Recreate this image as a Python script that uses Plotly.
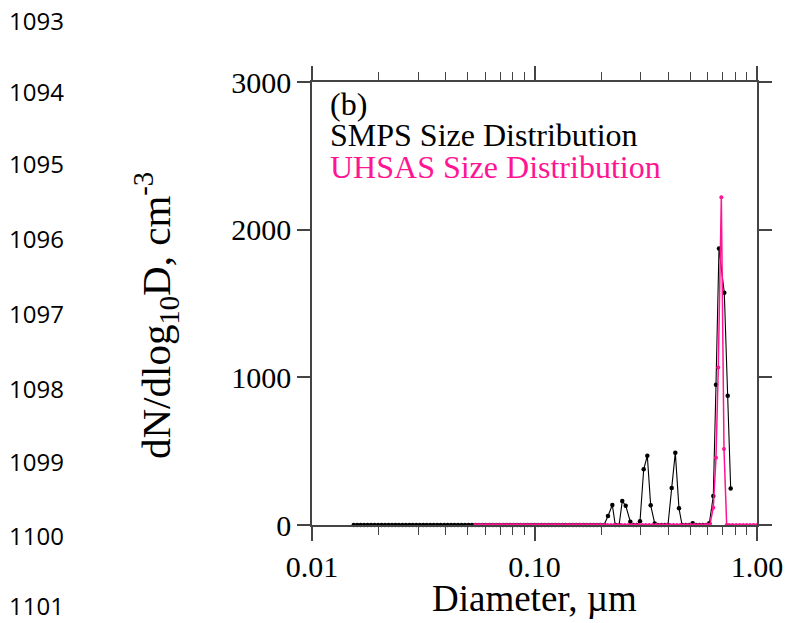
import plotly.graph_objects as go

# ---------------- data ----------------
smps_diam = [
    0.01540, 0.01596, 0.01655, 0.01715, 0.01778, 0.01843, 0.01911, 0.01981, 0.02054, 0.02129,
    0.02207, 0.02288, 0.02371, 0.02458, 0.02548, 0.02642, 0.02738, 0.02839, 0.02943, 0.03051,
    0.03162, 0.03278, 0.03398, 0.03523, 0.03652, 0.03786, 0.03924, 0.04068, 0.04217, 0.04371,
    0.04532, 0.04698, 0.04870, 0.05048, 0.05233, 0.05425, 0.05623, 0.05829, 0.06043, 0.06264,
    0.06494, 0.06732, 0.06978, 0.07234, 0.07499, 0.07774, 0.08058, 0.08354, 0.08660, 0.08977,
    0.09306, 0.09647, 0.1000, 0.1037, 0.1075, 0.1114, 0.1155, 0.1197, 0.1241, 0.1286,
    0.1334, 0.1382, 0.1433, 0.1486, 0.1540, 0.1596, 0.1655, 0.1715, 0.1778, 0.1843,
    0.1911, 0.1981, 0.2054,
    0.2139, 0.2238, 0.2307, 0.2400, 0.2480, 0.2570, 0.2696, 0.2780, 0.2880, 0.2980,
    0.3096, 0.3214, 0.3328, 0.3469, 0.3590, 0.3720, 0.3850, 0.3980, 0.4136, 0.4294,
    0.4460, 0.4605, 0.4780, 0.4950, 0.5140, 0.5320, 0.5510, 0.5700, 0.5900, 0.6105,
    0.6363, 0.6542, 0.6748, 0.7129, 0.7385, 0.7616,
]
smps_conc = [
    0, 0, 0, 0, 0, 0, 0, 0, 0, 0,
    0, 0, 0, 0, 0, 0, 0, 0, 0, 0,
    0, 0, 0, 0, 0, 0, 0, 0, 0, 0,
    0, 0, 0, 0, 0, 0, 0, 0, 0, 0,
    0, 0, 0, 0, 0, 0, 0, 0, 0, 0,
    0, 0, 0, 0, 0, 0, 0, 0, 0, 0,
    0, 0, 0, 0, 0, 0, 0, 0, 0, 0,
    0, 0, 0,
    61, 135, 0, 0, 162, 131, 22, 0, 0, 25,
    377, 469, 133, 11, 0, 0, 0, 0, 250, 490,
    113, 0, 0, 0, 12, 0, 0, 0, 0, 12,
    196, 950, 1873, 1573, 875, 248,
]

uhsas_diam = [
    0.05425, 0.05623, 0.05829, 0.06043, 0.06264, 0.06494, 0.06732, 0.06978, 0.07234, 0.07499,
    0.07774, 0.08058, 0.08354, 0.08660, 0.08977, 0.09306, 0.09647,
    0.1000, 0.1037, 0.1075, 0.1114, 0.1155, 0.1197, 0.1241, 0.1286, 0.1334, 0.1382,
    0.1433, 0.1486, 0.1540, 0.1596, 0.1655, 0.1715, 0.1778, 0.1843, 0.1911, 0.1981,
    0.2054, 0.2129, 0.2207, 0.2288, 0.2371, 0.2458, 0.2548, 0.2642, 0.2738, 0.2839,
    0.2943, 0.3051, 0.3162, 0.3278, 0.3398, 0.3523, 0.3652, 0.3786, 0.3924, 0.4068,
    0.4217, 0.4371, 0.4532, 0.4698, 0.4870, 0.5048, 0.5233, 0.5425, 0.5623, 0.5829,
    0.6000, 0.6135, 0.6363, 0.6542, 0.6700, 0.6913, 0.7106, 0.7307,
    0.7499, 0.7774, 0.8058, 0.8354, 0.8660, 0.8977, 0.9306, 0.9647, 1.000,
]
uhsas_conc = [
    0, 0, 0, 0, 0, 0, 0, 0, 0, 0,
    0, 0, 0, 0, 0, 0, 0,
    0, 0, 0, 0, 0, 0, 0, 0, 0, 0,
    0, 0, 0, 0, 0, 0, 0, 0, 0, 0,
    0, 0, 0, 0, 0, 0, 0, 0, 0, 0,
    0, 0, 0, 0, 0, 0, 0, 0, 0, 0,
    0, 0, 0, 0, 0, 0, 0, 0, 0, 0,
    0, 0, 117, 456, 1066, 2219, 514, 0,
    0, 0, 0, 0, 0, 0, 0, 0, 0,
]

x_tick_vals = [0.01, 0.1, 1.0]
x_tick_text = ["0.01", "0.10", "1.00"]
x_minor_vals = [0.02, 0.03, 0.04, 0.05, 0.06, 0.07, 0.08, 0.09,
                0.2, 0.3, 0.4, 0.5, 0.6, 0.7, 0.8, 0.9]
y_tick_vals = [0, 1000, 2000, 3000]
y_tick_text = ["0", "1000", "2000", "3000"]
line_numbers = ["1093", "1094", "1095", "1096", "1097", "1098", "1099", "1100", "1101"]

# ---------------- layout helpers ----------------
W, H = 788, 623
L, R, T, B = 312, 757, 82, 525  # plot area in pixels


def px(x):
    return (x - L) / (R - L)


def py(y):
    return (B - y) / (B - T)


SERIF = "Liberation Serif, Times New Roman, serif"
PINK = "#FF1493"
AX = "#444444"

fig = go.Figure()
fig.add_trace(go.Scatter(
    x=smps_diam, y=smps_conc, mode="lines+markers",
    line=dict(color="black", width=1.1),
    marker=dict(color="black", size=4.5),
    cliponaxis=False, showlegend=False,
))
fig.add_trace(go.Scatter(
    x=uhsas_diam, y=uhsas_conc, mode="lines+markers",
    line=dict(color=PINK, width=1.5),
    marker=dict(color=PINK, size=4),
    cliponaxis=False, showlegend=False,
))

fig.update_layout(
    width=W, height=H,
    margin=dict(l=L, r=W - R, t=T, b=H - B, autoexpand=False),
    paper_bgcolor="white", plot_bgcolor="white",
    font=dict(family=SERIF, color="black"),
    xaxis=dict(
        type="log", range=[-2, 0], automargin=False,
        tickmode="array", tickvals=x_tick_vals, ticktext=x_tick_text,
        ticks="outside", ticklen=14, tickwidth=1.5, tickcolor=AX,
        showline=True, linecolor=AX, linewidth=1.5, mirror="ticks",
        showgrid=False, zeroline=False,
        tickfont=dict(family=SERIF, size=30, color="black"),
        minor=dict(tickmode="array", tickvals=x_minor_vals, ticks="outside",
                   ticklen=8, tickwidth=1.2, tickcolor=AX, showgrid=False),
    ),
    yaxis=dict(
        range=[0, 3000], automargin=False,
        tickmode="array", tickvals=y_tick_vals, ticktext=y_tick_text,
        ticks="outside", ticklen=13, tickwidth=1.5, tickcolor=AX,
        showline=True, linecolor=AX, linewidth=1.5, mirror="ticks",
        showgrid=False, zeroline=False,
        tickfont=dict(family=SERIF, size=30, color="black"),
    ),
)

annotations = [
    dict(text="Diameter, µm", x=px(534), y=py(598), xref="paper", yref="paper",
         xanchor="center", yanchor="middle", showarrow=False,
         font=dict(family=SERIF, size=37, color="black")),
    dict(text="dN/dlog<sub>10</sub>D, cm<sup>-3</sup>", x=px(156), y=py(316),
         xref="paper", yref="paper", xanchor="center", yanchor="middle",
         textangle=-90, showarrow=False,
         font=dict(family=SERIF, size=41, color="black")),
    dict(text="(b)", x=px(328), y=py(104), xref="paper", yref="paper",
         xanchor="left", yanchor="middle", showarrow=False,
         font=dict(family=SERIF, size=32, color="black")),
    dict(text="SMPS Size Distribution", x=px(328), y=py(135), xref="paper", yref="paper",
         xanchor="left", yanchor="middle", showarrow=False,
         font=dict(family=SERIF, size=32, color="black")),
    dict(text="UHSAS Size Distribution", x=px(328), y=py(167), xref="paper", yref="paper",
         xanchor="left", yanchor="middle", showarrow=False,
         font=dict(family=SERIF, size=32, color=PINK)),
]
line_y = [20, 91, 163, 238, 313, 388, 461, 535, 605]
for lab, yy in zip(line_numbers, line_y):
    annotations.append(dict(text=lab, x=px(8), y=py(yy), xref="paper", yref="paper",
                            xanchor="left", yanchor="middle", showarrow=False,
                            borderpad=0,
                            font=dict(family="Open Sans, sans-serif", size=24, color="black")))
fig.update_layout(annotations=annotations)

fig.write_html("out.html")
